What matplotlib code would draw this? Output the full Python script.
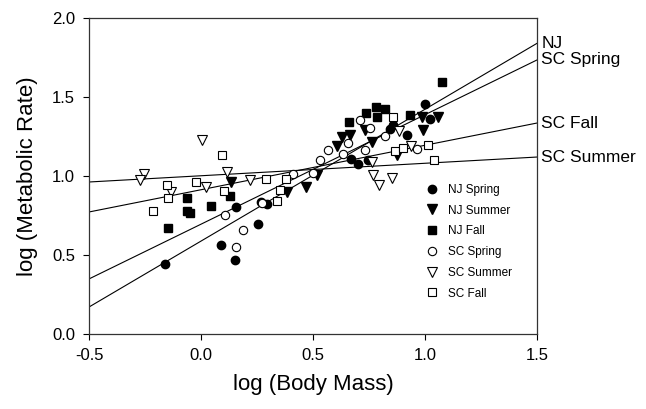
import matplotlib
matplotlib.use("Agg")
import numpy as np
import matplotlib.pyplot as plt

plt.rcParams['font.family'] = ['Liberation Sans', 'DejaVu Sans']

# データ (log Body Mass, log Metabolic Rate)
nj_spring_x = [-0.161, 0.088, 0.152, 0.155, 0.256, 0.266, 0.296, 0.668, 0.702, 0.747, 0.845, 0.858, 0.921, 1.000, 1.022]
nj_spring_y = [0.443, 0.563, 0.468, 0.802, 0.694, 0.833, 0.823, 1.106, 1.076, 1.101, 1.300, 1.325, 1.259, 1.458, 1.358]

nj_summer_x = [0.133, 0.382, 0.469, 0.519, 0.608, 0.628, 0.665, 0.732, 0.762, 0.873, 0.985, 0.993, 1.059]
nj_summer_y = [0.962, 0.896, 0.932, 1.006, 1.190, 1.245, 1.259, 1.291, 1.218, 1.133, 1.375, 1.291, 1.375]

nj_fall_x = [-0.146, -0.064, -0.064, -0.049, 0.045, 0.129, 0.662, 0.735, 0.781, 0.787, 0.821, 0.933, 1.077]
nj_fall_y = [0.669, 0.859, 0.780, 0.764, 0.810, 0.873, 1.340, 1.401, 1.439, 1.375, 1.422, 1.386, 1.593]

sc_spring_x = [0.107, 0.186, 0.156, 0.271, 0.412, 0.501, 0.531, 0.568, 0.635, 0.655, 0.710, 0.732, 0.754, 0.821, 0.963]
sc_spring_y = [0.753, 0.658, 0.553, 0.830, 1.011, 1.017, 1.101, 1.165, 1.139, 1.211, 1.354, 1.165, 1.302, 1.253, 1.169]

sc_summer_x = [-0.254, -0.272, 0.003, -0.134, 0.022, 0.115, 0.219, 0.769, 0.795, 0.851, 0.762, 0.885, 0.936]
sc_summer_y = [1.013, 0.975, 1.228, 0.897, 0.932, 1.025, 0.975, 1.006, 0.943, 0.985, 1.091, 1.285, 1.190]

sc_fall_x = [-0.213, -0.153, -0.149, -0.022, 0.094, 0.104, 0.290, 0.341, 0.353, 0.379, 0.859, 0.866, 0.900, 1.015, 1.040]
sc_fall_y = [0.778, 0.943, 0.859, 0.960, 1.133, 0.907, 0.979, 0.844, 0.911, 0.981, 1.371, 1.160, 1.175, 1.196, 1.101]

# 回帰直線 (切片, 傾き)
fit_names = ["NJ", "SC Spring", "SC Fall", "SC Summer"]
fit_intercepts = [0.588, 0.695, 0.913, 1.0015]
fit_slopes = [0.8345, 0.693, 0.2815, 0.079]

x_ticks = [-0.5, 0.0, 0.5, 1.0, 1.5]
y_ticks = [0.0, 0.5, 1.0, 1.5, 2.0]

fig = plt.figure(figsize=(6.46, 4.09), dpi=100)
ax = fig.add_axes([0.1378, 0.1834, 0.6935, 0.7726])

xs = np.array([-0.5, 1.5])
for name, b, m in zip(fit_names, fit_intercepts, fit_slopes):
    ys = b + m * xs
    ax.plot(xs, ys, color='black', linewidth=0.8, zorder=1)
    ax.text(1.52, ys[1], name, fontsize=12.5, va='center', ha='left', clip_on=False)

ms = 6
ax.plot(nj_spring_x, nj_spring_y, 'o', color='black', markersize=ms, linestyle='none', label='NJ Spring')
ax.plot(nj_summer_x, nj_summer_y, 'v', color='black', markersize=ms + 0.5, linestyle='none', label='NJ Summer')
ax.plot(nj_fall_x, nj_fall_y, 's', color='black', markersize=ms - 0.8, linestyle='none', label='NJ Fall')
ax.plot(sc_spring_x, sc_spring_y, 'o', mfc='white', mec='black', mew=0.8, markersize=ms, linestyle='none', label='SC Spring')
ax.plot(sc_summer_x, sc_summer_y, 'v', mfc='white', mec='black', mew=0.8, markersize=ms + 0.5, linestyle='none', label='SC Summer')
ax.plot(sc_fall_x, sc_fall_y, 's', mfc='white', mec='black', mew=0.8, markersize=ms - 0.8, linestyle='none', label='SC Fall')

ax.set_xlim(-0.5, 1.5)
ax.set_ylim(0.0, 2.0)
ax.set_xticks(x_ticks)
ax.set_yticks(y_ticks)
ax.set_xticklabels([f"{t:.1f}" for t in x_ticks], fontsize=12)
ax.set_yticklabels([f"{t:.1f}" for t in y_ticks], fontsize=12)
ax.tick_params(direction='out', length=4, width=0.8, pad=6)
for s in ax.spines.values():
    s.set_linewidth(0.9)
    s.set_color('#333333')

ax.set_xlabel('log (Body Mass)', fontsize=16, labelpad=8)
ax.set_ylabel('log (Metabolic Rate)', fontsize=16, labelpad=10)

ax.legend(loc='upper left', bbox_to_anchor=(0.742, 0.49), frameon=False, fontsize=8.5,
          handlelength=1.0, handletextpad=0.85, labelspacing=0.74, borderaxespad=0)

plt.savefig('out.png', dpi=100)
